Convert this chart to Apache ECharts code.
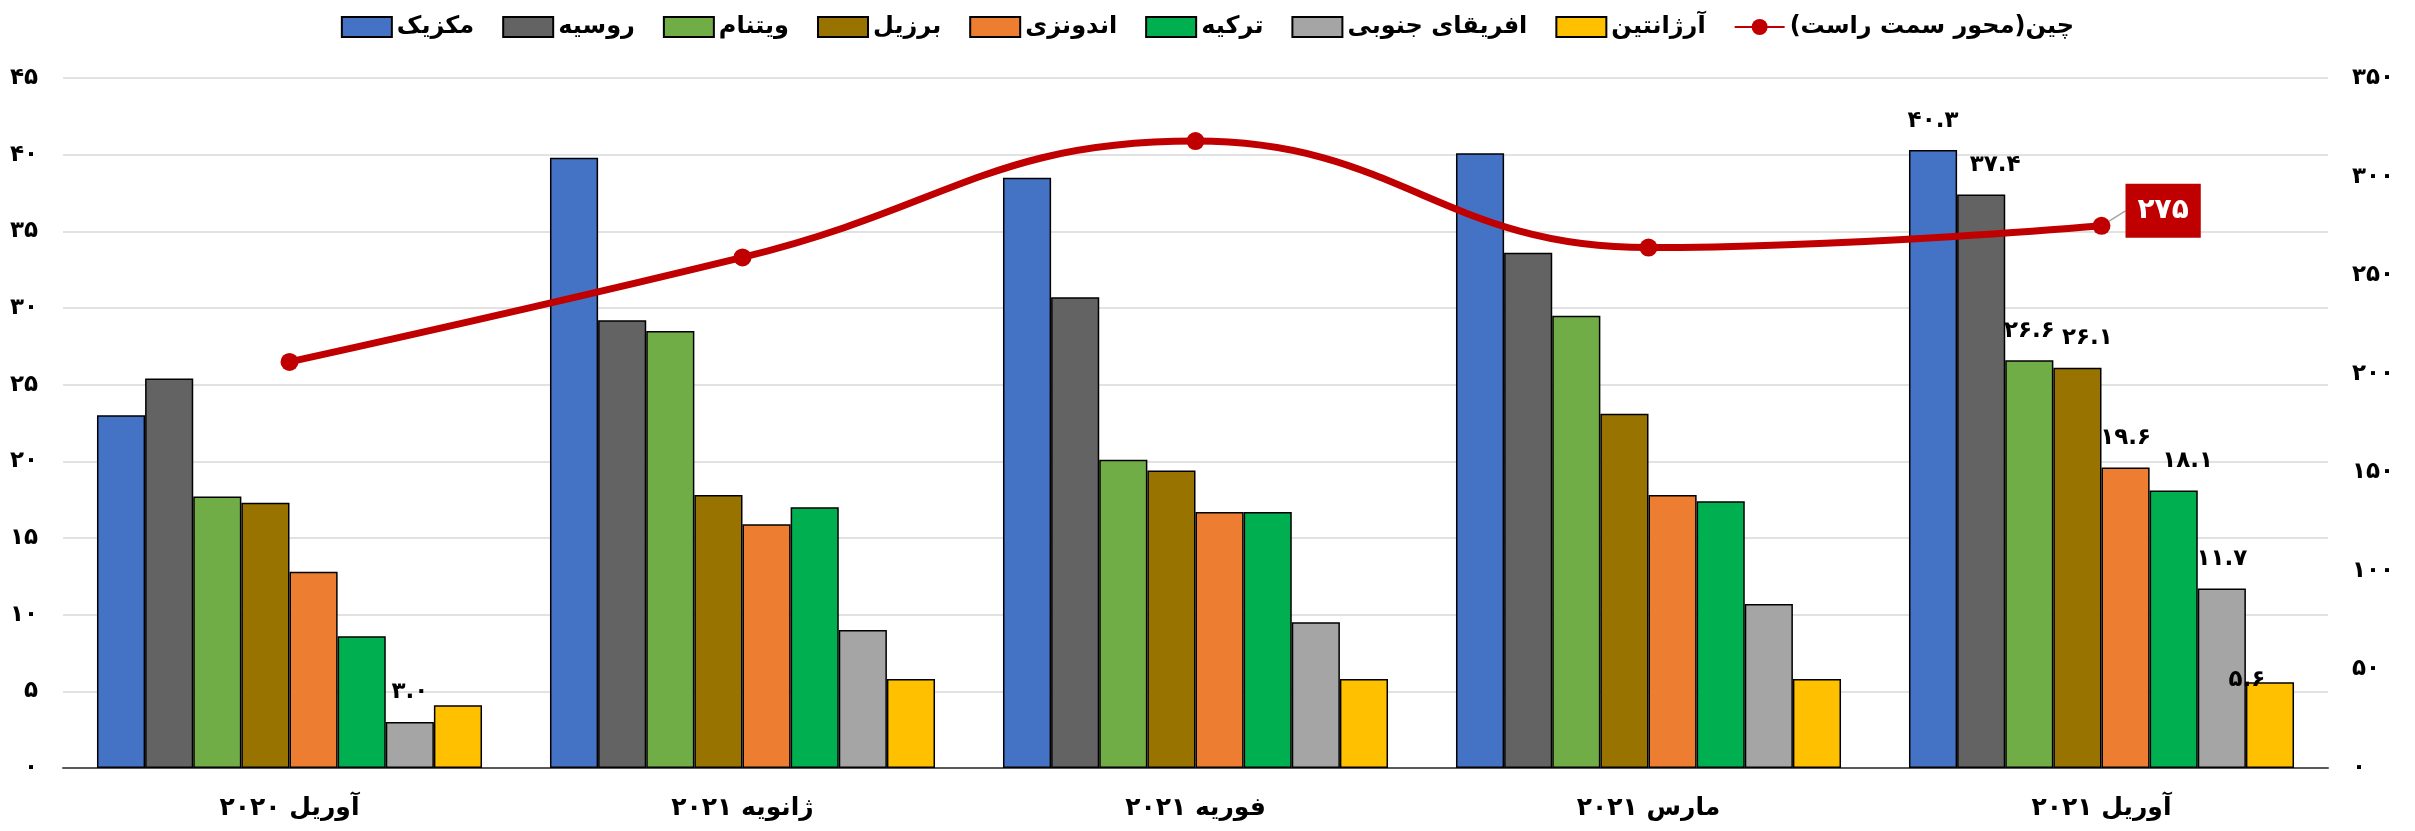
<!DOCTYPE html>
<html>
<head>
<meta charset="utf-8">
<script src="https://cdn.jsdelivr.net/npm/echarts@6/dist/echarts.min.js"></script>
<style>
html,body{margin:0;padding:0;background:#fff;}
#chart{width:2415px;height:831px;}
</style>
</head>
<body>
<div id="chart"></div>
<script>
// ---- data ----
var categories = ['آوریل ۲۰۲۰', 'ژانویه ۲۰۲۱', 'فوریه ۲۰۲۱', 'مارس ۲۰۲۱', 'آوریل ۲۰۲۱'];
var mexico      = [23.0, 39.8, 38.5, 40.1, 40.3];
var russia      = [25.4, 29.2, 30.7, 33.6, 37.4];
var vietnam     = [17.7, 28.5, 20.1, 29.5, 26.6];
var brazil      = [17.3, 17.8, 19.4, 23.1, 26.1];
var indonesia   = [12.8, 15.9, 16.7, 17.8, 19.6];
var turkey      = [8.6, 17.0, 16.7, 17.4, 18.1];
var southAfrica = [3.0, 9.0, 9.5, 10.7, 11.7];
var argentina   = [4.1, 5.8, 5.8, 5.8, 5.6];
var china       = [206, 259, 318, 264, 275];
var leftTicks   = [0, 5, 10, 15, 20, 25, 30, 35, 40, 45];
var rightTicks  = [0, 50, 100, 150, 200, 250, 300, 350];
var barNames = ['مکزیک', 'روسیه', 'ویتنام', 'برزیل', 'اندونزی', 'ترکیه', 'افریقای جنوبی', 'آرژانتین'];
var lineName = '\u200Fچین(محور سمت راست)\u200F';

// ---- helpers ----
var FA = '۰۱۲۳۴۵۶۷۸۹';
function fa(s) { return String(s).replace(/[0-9]/g, function (d) { return FA[+d]; }); }

var barValues = [mexico, russia, vietnam, brazil, indonesia, turkey, southAfrica, argentina];
var barColors = ['#4472C4', '#636363', '#70AD47', '#997300', '#ED7D31', '#00B050', '#A5A5A5', '#FFC000'];
// which (series, category) bars carry a value label
var labelled = function (si, ci) { return ci === 4 || (si === 6 && ci === 0); };
var labelOffsets = [[0, 0], [14, 0], [0, 0], [10, 0], [0, 0], [14, 0], [0, 0], [-23, 27]];

var FONT = '"DejaVu Sans", "Noto Sans", sans-serif';

var series = barValues.map(function (vals, si) {
  return {
    name: barNames[si],
    type: 'bar',
    barGap: '0%',
    barCategoryGap: '15%',
    itemStyle: { color: barColors[si], borderColor: '#000', borderWidth: 1.5 },
    data: vals.map(function (v, ci) {
      var d = { value: v };
      if (labelled(si, ci)) {
        d.label = {
          show: true, position: 'top', distance: 18, offset: labelOffsets[si],
          formatter: function (p) { return fa(p.value.toFixed(1)); },
          fontFamily: FONT, fontSize: 23, fontWeight: 'bold', color: '#000'
        };
      }
      return d;
    })
  };
});

series.push({
  name: lineName,
  type: 'line',
  yAxisIndex: 1,
  smooth: 0.45,
  z: 10,
  symbol: 'circle',
  symbolSize: 18,
  lineStyle: { color: '#C00000', width: 7 },
  itemStyle: { color: '#C00000' },
  data: china.map(function (v, i) {
    var d = { value: v };
    if (i === china.length - 1) {
      d.label = {
        show: true, position: 'right', distance: 5,
        formatter: function (p) { return fa(p.value); },
        backgroundColor: '#C00000', color: '#fff',
        fontFamily: FONT, fontSize: 28, fontWeight: 'bold',
        padding: [14, 12, 12, 12]
      };
      d.labelLine = { show: true, lineStyle: { color: '#A5A5A5', width: 1.5 } };
    }
    return d;
  }),
  labelLayout: function (p) {
    return { dx: 10, dy: -15 };
  },
  labelLine: { show: false, lineStyle: { color: '#A5A5A5', width: 1.5 } }
});

var chart = echarts.init(document.getElementById('chart'), null, { renderer: 'canvas' });
chart.setOption({
  backgroundColor: '#fff',
  animation: false,
  textStyle: { fontFamily: FONT },
  legend: {
    top: 10,
    left: 'center',
    itemWidth: 50,
    itemHeight: 20,
    itemGap: 28,
    textStyle: { fontFamily: FONT, fontSize: 24, fontWeight: 'bold', color: '#000' },
    data: barNames.map(function (n) { return { name: n, icon: 'rect' }; }).concat([{ name: lineName }])
  },
  grid: { left: 63, right: 87, top: 78, bottom: 63, containLabel: false },
  xAxis: {
    type: 'category',
    data: categories,
    axisTick: { show: false },
    axisLine: { show: true, lineStyle: { color: '#595959', width: 2 } },
    axisLabel: {
      margin: 28, fontFamily: FONT, fontSize: 25, fontWeight: 'bold', color: '#000'
    }
  },
  yAxis: [{
    type: 'value',
    min: leftTicks[0], max: leftTicks[leftTicks.length - 1], interval: leftTicks[1] - leftTicks[0],
    axisLine: { show: false }, axisTick: { show: false },
    splitLine: { lineStyle: { color: '#D9D9D9', width: 1.5 } },
    axisLabel: {
      margin: 25, fontFamily: FONT, fontSize: 23, fontWeight: 'bold', color: '#000',
      formatter: function (v) { return fa(v); }
    }
  }, {
    type: 'value',
    min: rightTicks[0], max: rightTicks[rightTicks.length - 1], interval: rightTicks[1] - rightTicks[0],
    axisLine: { show: false }, axisTick: { show: false },
    splitLine: { show: false },
    axisLabel: {
      margin: 24, fontFamily: FONT, fontSize: 23, fontWeight: 'bold', color: '#000',
      formatter: function (v) { return fa(v); }
    }
  }],
  series: series
});
</script>
</body>
</html>
